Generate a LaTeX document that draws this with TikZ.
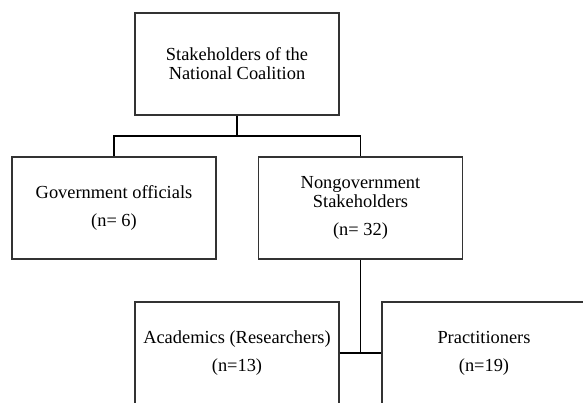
\documentclass[tikz,border=0pt]{standalone}
\usepackage{fontspec}
\setmainfont{Liberation Serif}
\usepackage{tikz}
\usetikzlibrary{positioning}

\tikzset{
  box/.style={draw=black!80, line width=1.1pt, minimum width=204pt, minimum height=102pt, align=center, inner sep=0pt},
  link/.style={line width=1.5pt, black}
}

\begin{document}
\begin{tikzpicture}[x=1pt, y=-1pt, font=\fontsize{18.4}{19}\selectfont]
%frame of the picture
\useasboundingbox (0,0) rectangle (583,402);
\clip (0,0) rectangle (583,402);

%boxes
\node[box] (top) at (237,64) {Stakeholders of the\\National Coalition};
\node[box] (gov) at (114,208) {Government officials\\[9pt](n= 6)};
\node[box] (nongov) at (360.5,208) {Nongovernment\\Stakeholders\\[9pt](n= 32)};
\node[box] (acad) at (237,353) {Academics (Researchers)\\[9pt](n=13)};
\node[box] (pract) at (484,353) {Practitioners\\[9pt](n=19)};

%connectors
\coordinate (fork) at (237,136);
\draw[link] (top.south) -- (fork);
\draw[link] (gov.north) |- (fork) -| (nongov.north);
\draw[link] (nongov.south) -- (nongov.south |- acad.east);
\draw[link] (acad.east) -- (pract.west);
\end{tikzpicture}
\end{document}
